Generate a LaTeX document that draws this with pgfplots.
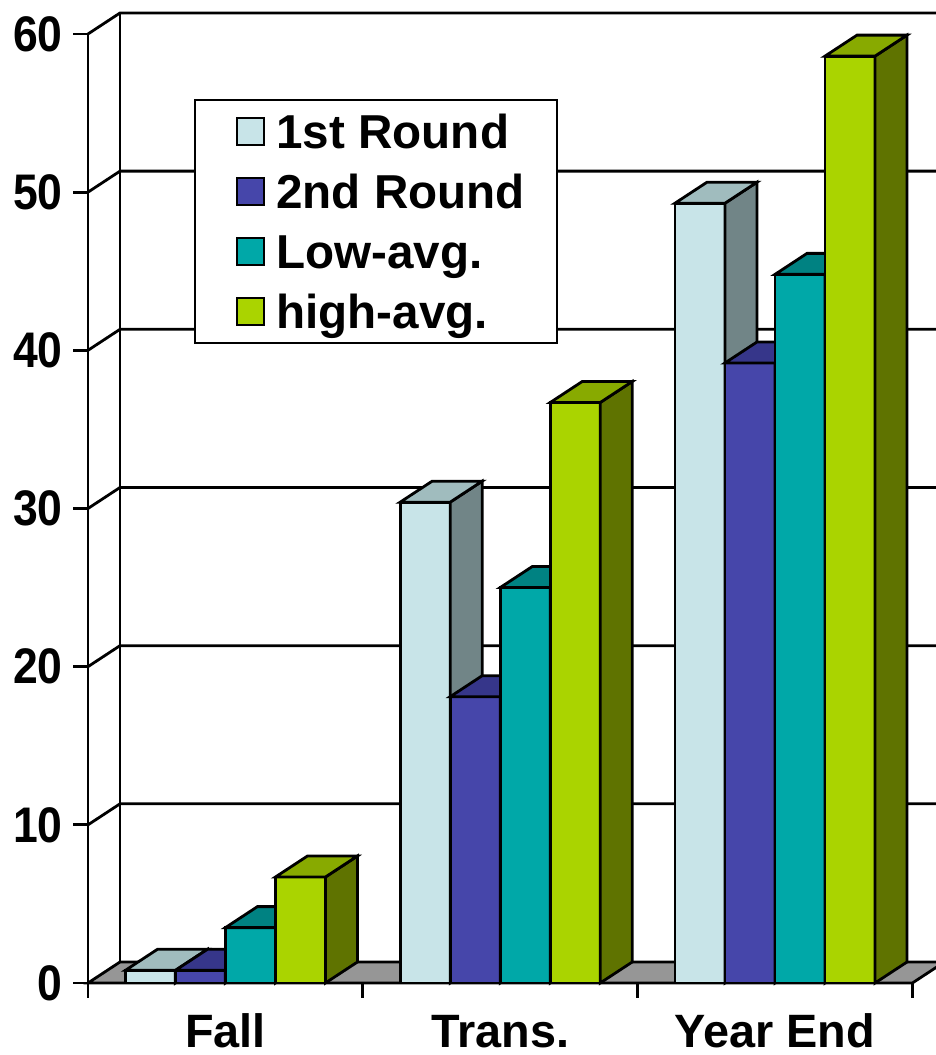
\documentclass[border=0pt]{standalone}
\usepackage{fontspec}
\setmainfont{Liberation Sans}
\usepackage{pgfplots}
\usepackage{pgfplotstable}
\pgfplotsset{compat=1.18}

\definecolor{f1}{HTML}{C8E4E8}\definecolor{t1}{HTML}{A0BCBE}\definecolor{s1}{HTML}{718587}
\definecolor{f2}{HTML}{4646AA}\definecolor{t2}{HTML}{36368A}\definecolor{s2}{HTML}{2C2C70}
\definecolor{f3}{HTML}{00A8A8}\definecolor{t3}{HTML}{008282}\definecolor{s3}{HTML}{006C6C}
\definecolor{f4}{HTML}{AAD400}\definecolor{t4}{HTML}{88AA00}\definecolor{s4}{HTML}{5F7300}
\definecolor{floorgray}{HTML}{969696}

% 3-D box drawn at each bar's top centre (front face, side face, top face)
\newcommand\declbox[1]{%
\pgfdeclareplotmark{box#1}{%
 \pgfmathsetlengthmacro\hh{\barval*7.9085pt}%
 \filldraw[fill=f#1,draw=black,line width=1.4pt] (-12.5pt,0pt) rectangle (12.5pt,-\hh);
 \filldraw[fill=s#1,draw=black,line width=1.4pt] (12.5pt,0pt) -- (28.5pt,10.5pt) -- (28.5pt,10.5pt-\hh) -- (12.5pt,-\hh) -- cycle;
 \filldraw[fill=t#1,draw=black,line width=1.4pt] (-12.5pt,0pt) -- (12.5pt,0pt) -- (28.5pt,10.5pt) -- (3.5pt,10.5pt) -- cycle;
}}
\declbox{1}\declbox{2}\declbox{3}\declbox{4}

\pgfplotsset{front/.style={ybar, bar width=25pt, bar shift=0pt, draw=black, line width=1.4pt, fill=#1,
  legend image code/.code={\path (0pt,0pt); \draw[fill=#1, draw=black, line width=1pt] (4.5pt,-6.75pt) rectangle (18pt,6.75pt);}}}

\pgfplotstableread{
x v1 v2 v3 v4
0.5 0.8 0.8 3.5 6.7
1.5 30.4 18.1 25.0 36.7
2.5 49.3 39.2 44.8 58.6
}\datatable

\begin{document}
\begin{tikzpicture}
\path[use as bounding box] (0,0) rectangle (468pt,527.5pt);
\begin{axis}[
 at={(44pt,36pt)}, anchor=origin,
 x=137.4pt, y=7.9085pt,
 xmin=0, xmax=3, ymin=0, ymax=60,
 axis x line*=bottom, axis y line*=left,
 axis line style={draw=none},
 clip=false,
 major tick length=0pt,
 tick style={draw=none},
 ytick={0,10,...,60},
 yticklabel={\scalebox{0.89}[1]{\pgfmathprintnumber{\tick}}},
 xtick={0.5,1.5,2.5},
 xticklabels={Fall,Trans.,Year End},
 yticklabel style={font=\fontsize{25}{29}\selectfont\bfseries, inner sep=0pt, xshift=-12.5pt},
 xticklabel style={font=\fontsize{23.4}{28}\selectfont\bfseries, inner sep=0pt, anchor=base, yshift=-32pt},
 /pgf/number format/assume math mode=true,
 legend style={at={(0.1286,0.9315)}, anchor=north west, draw=black, line width=1pt, fill=white,
   font=\fontsize{23.8}{28}\selectfont\bfseries, inner xsep=16pt, inner ysep=7.3pt,
   row sep=13.2pt, column sep=5.5pt,
   nodes={inner sep=0pt, text height=16.8pt, text depth=0pt}},
 legend cell align=left,
]
% floor
\filldraw[fill=floorgray, draw=black, line width=1.4pt] (0,0) -- (3,0) -- (3.1164,1.3277) -- (0.1164,1.3277) -- cycle;
% back wall and side wall lines
\draw[line width=1.4pt] (0.1164,1.3277) -- (0.1164,61.3277);
\draw[line width=1.4pt] (0,0) -- (0,60);
\draw[line width=1.4pt] (0,10) -- (0.1164,11.3277) -- (3.1164,11.3277);
\draw[line width=1.4pt] (0,20) -- (0.1164,21.3277) -- (3.1164,21.3277);
\draw[line width=1.4pt] (0,30) -- (0.1164,31.3277) -- (3.1164,31.3277);
\draw[line width=1.4pt] (0,40) -- (0.1164,41.3277) -- (3.1164,41.3277);
\draw[line width=1.4pt] (0,50) -- (0.1164,51.3277) -- (3.1164,51.3277);
\draw[line width=1.4pt] (0,60) -- (0.1164,61.3277) -- (3.1164,61.3277);
% tick marks
\draw[line width=1.4pt] (0,0) -- ++(-7.5pt,0pt) (0,10) -- ++(-7.5pt,0pt) (0,20) -- ++(-7.5pt,0pt)
  (0,30) -- ++(-7.5pt,0pt) (0,40) -- ++(-7.5pt,0pt) (0,50) -- ++(-7.5pt,0pt) (0,60) -- ++(-7.5pt,0pt);
\draw[line width=1.4pt] (0,0) -- ++(0pt,-7.5pt) (1,0) -- ++(0pt,-7.5pt) (2,0) -- ++(0pt,-7.5pt) (3,0) -- ++(0pt,-7.5pt);

\addplot[front=f1] table[x expr=\thisrow{x}-0.273, y=v1]{\datatable};
\addlegendentry{1st Round}
\addplot[front=f2] table[x expr=\thisrow{x}-0.091, y=v2]{\datatable};
\addlegendentry{2nd Round}
\addplot[front=f3] table[x expr=\thisrow{x}+0.091, y=v3]{\datatable};
\addlegendentry{Low-avg.}
\addplot[front=f4] table[x expr=\thisrow{x}+0.273, y=v4]{\datatable};
\addlegendentry{high-avg.}

\addplot[forget plot, only marks, mark=box1, visualization depends on={rawy\as\barval}] table[x expr=\thisrow{x}-0.273, y=v1]{\datatable};
\addplot[forget plot, only marks, mark=box2, visualization depends on={rawy\as\barval}] table[x expr=\thisrow{x}-0.091, y=v2]{\datatable};
\addplot[forget plot, only marks, mark=box3, visualization depends on={rawy\as\barval}] table[x expr=\thisrow{x}+0.091, y=v3]{\datatable};
\addplot[forget plot, only marks, mark=box4, visualization depends on={rawy\as\barval}] table[x expr=\thisrow{x}+0.273, y=v4]{\datatable};
\end{axis}
\end{tikzpicture}
\end{document}
